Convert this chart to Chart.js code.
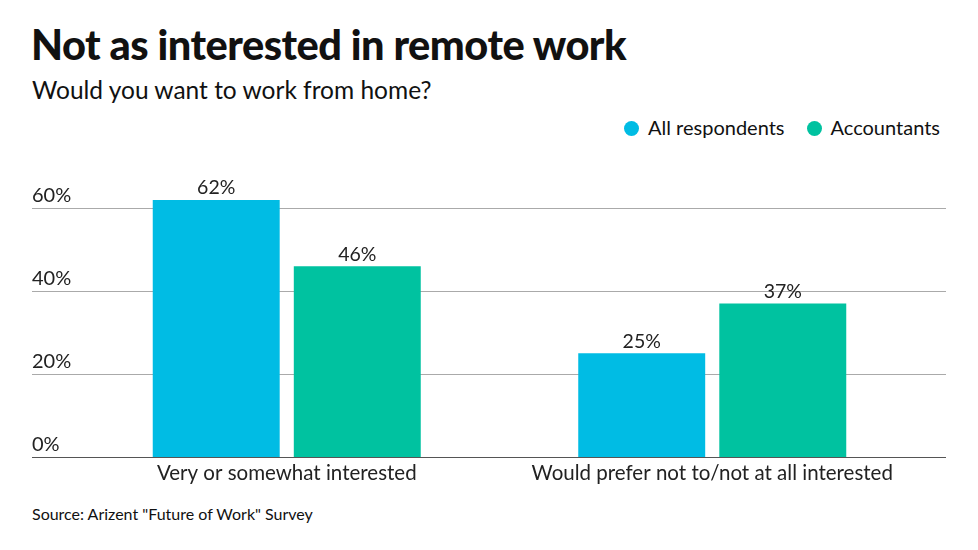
<!DOCTYPE html>
<html><head><meta charset="utf-8">
<script src="https://cdn.jsdelivr.net/npm/chart.js@4"></script>
<style>
body{margin:0;width:978px;height:550px;overflow:hidden;background:#fff;font-family:Lato,sans-serif;color:#111}
#t{position:absolute;left:31px;top:19px;font-size:41.5px;font-weight:900;letter-spacing:-0.5px}
#s{position:absolute;left:32px;top:75px;font-size:24.5px}
#lg{position:absolute;right:38px;top:115px;font-size:20px;display:flex;gap:22px}
#lg span:before{content:"";display:inline-block;width:15px;height:15px;border-radius:50%;margin-right:9px;vertical-align:-1px;background:var(--c)}
#src{position:absolute;left:32px;top:504px;font-size:16px}
canvas{position:absolute;left:0;top:0}
</style></head><body>
<div id="t">Not as interested in remote work</div>
<div id="s">Would you want to work from home?</div>
<div id="lg"><span style="--c:#00bce4">All respondents</span><span style="--c:#00c2a0">Accountants</span></div>
<div id="src">Source: Arizent "Future of Work" Survey</div>
<div style="position:absolute;left:0;top:0;width:978px;height:550px"><canvas id="c"></canvas></div>
<script>
const categories=["Very or somewhat interested","Would prefer not to/not at all interested"];
const allRespondents=[62,25];
const accountants=[46,37];
const yTicks=[0,20,40,60];
const bg={id:'bg',beforeDatasetsDraw(ch){const c=ch.ctx,y=ch.scales.y,x=ch.scales.x;c.save();c.font='20px Lato';c.fillStyle='#222';c.textBaseline='bottom';
yTicks.forEach(v=>{const p=Math.round(y.getPixelForValue(v))+0.5;c.strokeStyle=v===0?'#555':'#aaa';c.lineWidth=1;c.beginPath();c.moveTo(32,p);c.lineTo(946,p);c.stroke();c.fillText(v+'%',32,p-3);});
c.font='20.5px Lato';c.textAlign='center';c.textBaseline='middle';const b=y.getPixelForValue(0);
categories.forEach((l,i)=>c.fillText(l,x.getPixelForValue(i),b+16));c.restore();},
afterDatasetsDraw(ch){const c=ch.ctx;c.save();c.font='19.5px Lato';c.fillStyle='#222';c.textAlign='center';c.textBaseline='bottom';
ch.data.datasets.forEach((d,i)=>ch.getDatasetMeta(i).data.forEach((b,j)=>c.fillText(d.data[j]+'%',b.x,b.y-2)));c.restore();}};
new Chart(document.getElementById('c'),{type:'bar',
data:{labels:categories,datasets:[{label:'All respondents',data:allRespondents,backgroundColor:'#00bce4'},{label:'Accountants',data:accountants,backgroundColor:'#00c2a0'}]},
options:{responsive:true,maintainAspectRatio:false,animation:false,
layout:{padding:{left:74,right:53,top:146,bottom:93}},
plugins:{legend:{display:false},tooltip:{enabled:false}},
categoryPercentage:0.663,barPercentage:0.9,
scales:{x:{display:false},y:{display:false,min:0,max:75}}},
plugins:[bg]});
</script></body></html>
